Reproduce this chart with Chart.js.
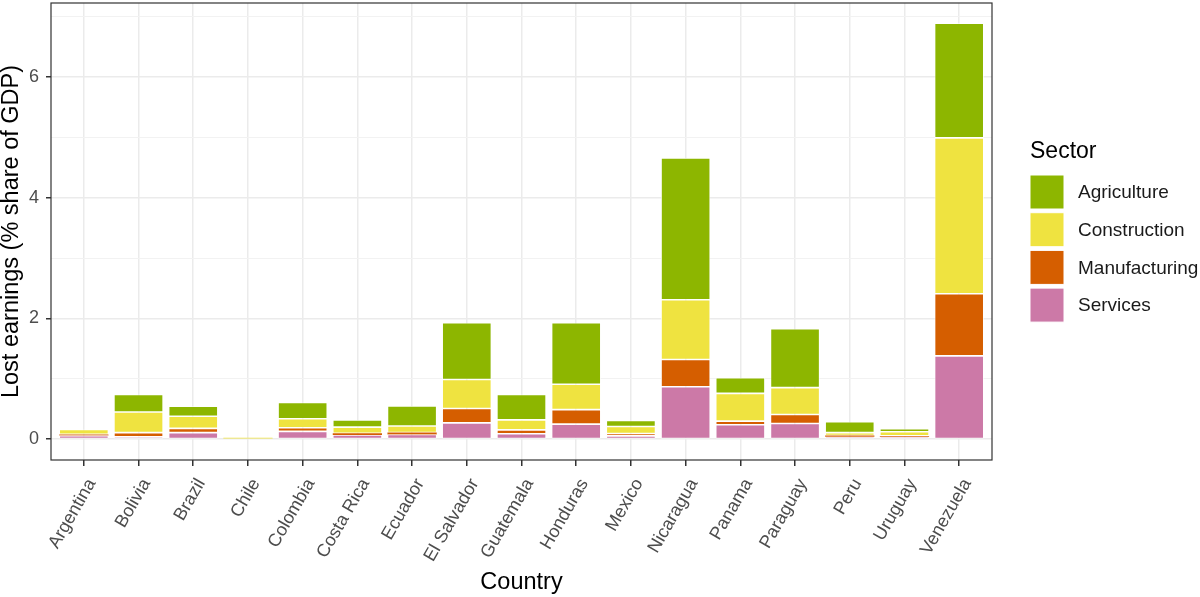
<!DOCTYPE html>
<html>
<head>
<meta charset="utf-8">
<script src="https://cdn.jsdelivr.net/npm/chart.js@4"></script>
<style>
  html, body { margin: 0; padding: 0; background: #ffffff; }
  #wrap { width: 1200px; height: 597px; position: relative; }
</style>
</head>
<body>
<div id="wrap"><canvas id="c" width="1200" height="597"></canvas></div>
<script>
const countries = ["Argentina","Bolivia","Brazil","Chile","Colombia","Costa Rica","Ecuador","El Salvador","Guatemala","Honduras","Mexico","Nicaragua","Panama","Paraguay","Peru","Uruguay","Venezuela"];
const services      = [0.06, 0.04, 0.11, 0.000, 0.13, 0.07, 0.08, 0.27, 0.09, 0.25, 0.055, 0.87, 0.24, 0.26, 0.04, 0.04, 1.38];
const manufacturing = [0.02, 0.07, 0.07, 0.000, 0.06, 0.03, 0.03, 0.24, 0.065, 0.24, 0.04, 0.45, 0.06, 0.15, 0.02, 0.015, 1.03];
const construction  = [0.08, 0.34, 0.20, 0.025, 0.15, 0.10, 0.11, 0.48, 0.165, 0.42, 0.115, 0.99, 0.46, 0.445, 0.05, 0.07, 2.58];
const agriculture   = [0.00, 0.29, 0.165, 0.000, 0.27, 0.12, 0.33, 0.94, 0.42, 1.02, 0.10, 2.35, 0.26, 0.975, 0.18, 0.05, 1.90];
const sectorNames   = ["Agriculture","Construction","Manufacturing","Services"];
const sectorColors  = ["#8db600","#efe340","#d55e00","#cc79a7"];
const yTickLabels   = [0, 2, 4, 6];

const toPoints = arr => arr.map((v, i) => ({ x: i + 1, y: v }));

const datasets = [
  { label: "Services",      data: toPoints(services),      backgroundColor: sectorColors[3] },
  { label: "Manufacturing", data: toPoints(manufacturing), backgroundColor: sectorColors[2] },
  { label: "Construction",  data: toPoints(construction),  backgroundColor: sectorColors[1] },
  { label: "Agriculture",   data: toPoints(agriculture),   backgroundColor: sectorColors[0] }
].map(d => Object.assign(d, {
  borderColor: "#ffffff",
  borderWidth: ctx => (ctx.raw && ctx.raw.y < 0.04) ? 0 : 0.8,
  borderSkipped: false,
  categoryPercentage: 0.9,
  barPercentage: 1.0
}));

const FONT = "'Liberation Sans', Arial, Helvetica, sans-serif";
const isMajor = ctx => ctx.tick && yTickLabels.includes(ctx.tick.value);

const frameAndLegend = {
  id: "frameAndLegend",
  afterDraw(chart) {
    const ctx = chart.ctx, a = chart.chartArea;
    ctx.save();
    ctx.strokeStyle = "#333333";
    ctx.lineWidth = 1.2;
    ctx.strokeRect(a.left, a.top, a.right - a.left, a.bottom - a.top);
    // legend
    ctx.fillStyle = "#000000";
    ctx.font = "23px " + FONT;
    ctx.textAlign = "left";
    ctx.textBaseline = "middle";
    ctx.fillText("Sector", 1030, 152);
    const x0 = 1030, y0 = 175, box = 34, pitch = 37.7;
    ctx.font = "19px " + FONT;
    sectorNames.forEach((name, i) => {
      const y = y0 + i * pitch;
      ctx.fillStyle = sectorColors[i];
      ctx.fillRect(x0, y, box, box);
      ctx.strokeStyle = "#ffffff";
      ctx.lineWidth = 1;
      ctx.strokeRect(x0, y, box, box);
      ctx.fillStyle = "#1a1a1a";
      ctx.fillText(name, 1078, y + box / 2 + 1);
    });
    ctx.restore();
  }
};

new Chart(document.getElementById("c"), {
  type: "bar",
  data: { datasets },
  plugins: [frameAndLegend],
  options: {
    responsive: false,
    animation: false,
    layout: { padding: { left: 0, right: 208, top: 3, bottom: 0 } },
    plugins: { legend: { display: false }, tooltip: { enabled: false } },
    scales: {
      x: {
        type: "linear",
        stacked: true,
        min: 0.4,
        max: 17.6,
        offset: false,
        afterFit(scale) { scale.height = 137; scale.paddingLeft = 0; scale.paddingRight = 0; },
        ticks: {
          stepSize: 1,
          includeBounds: false,
          autoSkip: false,
          minRotation: 60,
          maxRotation: 60,
          padding: 9,
          labelOffset: 8,
          color: "#4d4d4d",
          font: { family: FONT, size: 18 },
          callback: v => countries[Math.round(v) - 1] || ""
        },
        grid: { offset: false, color: "#ebebeb", lineWidth: 1.5, tickColor: "#333333", tickLength: 6, drawTicks: true },
        border: { display: false },
        title: { display: true, text: "Country", color: "#000000", font: { family: FONT, size: 23.5, lineHeight: 1.0 }, padding: { top: 0, bottom: 3 } }
      },
      y: {
        stacked: true,
        min: -0.344,
        max: 7.224,
        afterFit(scale) { scale.width = 51; scale.paddingTop = 0; scale.paddingBottom = 0; },
        ticks: {
          stepSize: 1,
          includeBounds: false,
          padding: 7,
          color: "#4d4d4d",
          font: { family: FONT, size: 18 },
          callback: v => (yTickLabels.includes(v) ? String(v) : "")
        },
        grid: {
          color: ctx => isMajor(ctx) ? "#ebebeb" : "#f2f2f2",
          lineWidth: ctx => isMajor(ctx) ? 1.5 : 1,
          tickColor: ctx => isMajor(ctx) ? "#333333" : "rgba(0,0,0,0)",
          tickLength: 5
        },
        border: { display: false },
        title: { display: true, text: "Lost earnings (% share of GDP)", color: "#000000", font: { family: FONT, size: 23.5, lineHeight: 1.0 }, padding: 0 }
      }
    }
  }
});
</script>
</body>
</html>
